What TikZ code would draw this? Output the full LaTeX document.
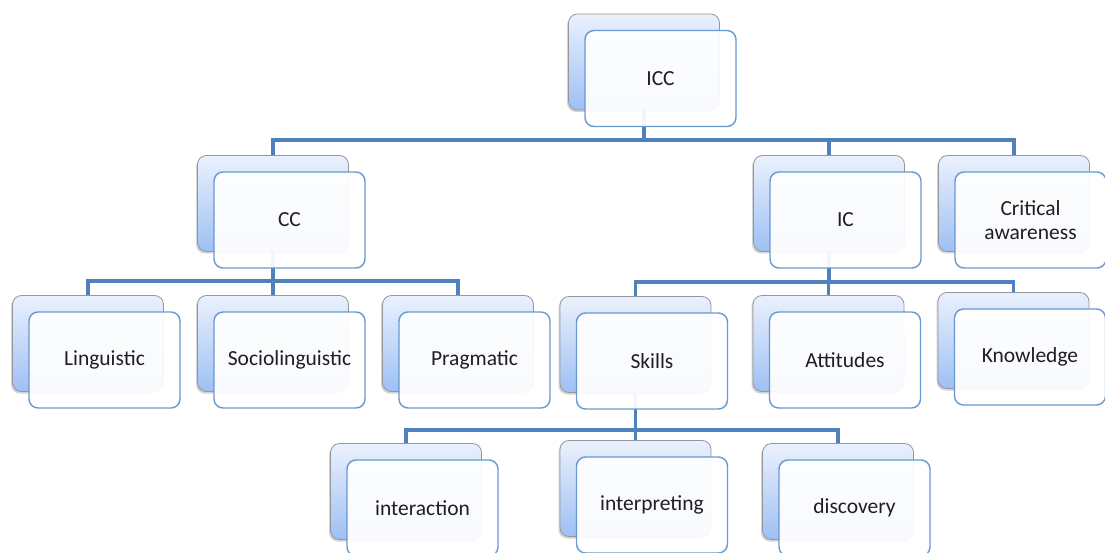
\documentclass[tikz,border=0pt]{standalone}
\usepackage{fontspec}
\setmainfont{Carlito}
\usetikzlibrary{calc,shadows}
\definecolor{linkblue}{RGB}{79,129,189}
\definecolor{frontedge}{RGB}{104,152,208}
\definecolor{backtop}{RGB}{234,241,253}
\definecolor{backbot}{RGB}{158,192,244}
\definecolor{backedge}{RGB}{150,150,155}
\tikzset{
	backbox/.style={draw=backedge, line width=0.8pt, rounded corners=9pt, inner sep=0pt, minimum width=151pt, minimum height=96pt, top color=backtop, bottom color=backbot, drop shadow={shadow xshift=-1.5pt, shadow yshift=-2pt, opacity=0.35}},
	frontbox/.style={draw=frontedge, line width=1.4pt, rounded corners=9pt, inner sep=0pt, minimum width=151pt, minimum height=96pt, fill=white, fill opacity=0.93, text opacity=1, align=center, text=black!88, font=\fontsize{21.5}{23.5}\selectfont},
	link/.style={draw=linkblue, line width=3.5pt}
}

\begin{document}
\begin{tikzpicture}[x=1pt, y=-1pt]
			%%%%% START %%%%%
			
			\useasboundingbox (0, 0) rectangle (1105, 553);
			\clip (0, 0) rectangle (1105, 553);
			
			% back boxes
			\foreach \n/\x/\y in {icc/660.5/78.5, cc/289.5/220, ic/845.5/220, crit/1030.5/220, ling/104.5/360, socio/289.5/360, prag/474.5/360, skills/652/361, att/845/360, know/1030/357, inter/422.5/508, interp/652/505, disc/854.5/508}
				\node[backbox] (\n-b) at (\x-16.5, \y-16.5) {};
			
			% links
			\coordinate (bus1) at (0, 140);
			\coordinate (bus2) at (0, 281);
			\coordinate (bus3) at (0, 282);
			\coordinate (bus4) at (0, 430);
			\foreach \c in {cc, ic, crit}
				\draw[link] (icc-b.south) -- (icc-b.south |- bus1) -| (\c-b.north);
			\foreach \c in {ling, socio, prag}
				\draw[link] (cc-b.south) -- (cc-b.south |- bus2) -| (\c-b.north);
			\foreach \c in {skills, att, know}
				\draw[link] (ic-b.south) -- (ic-b.south |- bus3) -| (\c-b.north);
			\foreach \c in {inter, interp, disc}
				\draw[link] (skills-b.south) -- (skills-b.south |- bus4) -| (\c-b.north);
			
			% front boxes
			\foreach \n/\x/\y/\t in {icc/660.5/78.5/ICC, cc/289.5/220/CC, ic/845.5/220/IC, crit/1030.5/220/{Critical\\awareness}, ling/104.5/360/Linguistic, socio/289.5/360/Sociolinguistic, prag/474.5/360/Pragmatic, skills/652/361/Skills, att/845/360/Attitudes, know/1030/357/Knowledge, inter/422.5/508/interaction, interp/652/505/interpreting, disc/854.5/508/discovery}
				\node[frontbox] (\n) at (\x, \y) {\t};
			
			%%%%% END %%%%%
\end{tikzpicture}
\end{document}
